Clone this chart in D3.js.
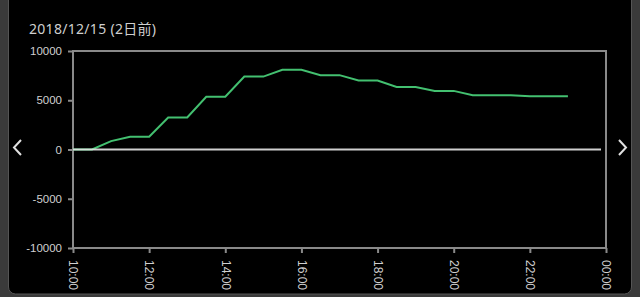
<!DOCTYPE html>
<html>
<head>
<meta charset="utf-8">
<script src="https://cdn.jsdelivr.net/npm/d3@7"></script>
<style>
html, body { margin: 0; padding: 0; background: #3a3a3a; overflow: hidden; }
svg { display: block; }
</style>
</head>
<body>
<script>
var w = 640, h = 297;
var titleText = "2018/12/15 (2日前)";
var times = ["10:00", "10:30", "11:00", "11:30", "12:00", "12:30", "13:00", "13:30", "14:00",
	"14:30", "15:00", "15:30", "16:00", "16:30", "17:00", "17:30", "18:00", "18:30", "19:00",
	"19:30", "20:00", "20:30", "21:00", "21:30", "22:00", "22:30", "23:00"];
var values = [0, 0, 850, 1300, 1300, 3250, 3250, 5350, 5350,
	7400, 7400, 8100, 8100, 7550, 7550, 7000, 7000, 6350, 6350,
	5950, 5950, 5500, 5500, 5500, 5400, 5400, 5400];
var yTicks = [-10000, -5000, 0, 5000, 10000];

var parse = d3.timeParse("%Y-%m-%d %H:%M");
function toDate(t) {
	return parse("2018-12-15 " + t);
}
var data = times.map(function(t, i) { return { t: toDate(t), v: values[i] }; });

var mLeft = 73, mRight = 606, mTop = 51, mBottom = 248;

var x = d3.scaleTime()
	.domain([parse("2018-12-15 10:00"), parse("2018-12-16 00:00")])
	.range([mLeft, mRight]);
var y = d3.scaleLinear()
	.domain([-10000, 10000])
	.range([mBottom, mTop]);

var svg = d3.select("body")
	.append("svg")
	.attr("width", w)
	.attr("height", h);

// panel
svg.append("rect")
	.attr("x", 8.5)
	.attr("y", -20)
	.attr("width", 623)
	.attr("height", 314)
	.attr("rx", 7)
	.attr("fill", "#000")
	.attr("stroke", "#555")
	.attr("stroke-width", 1);

svg.append("text")
	.attr("x", 29)
	.attr("y", 34)
	.attr("fill", "#cfcfcf")
	.attr("font-family", "'Noto Sans', 'Noto Sans CJK JP', sans-serif")
	.attr("font-size", 14)
	.attr("letter-spacing", 0.3)
	.text(titleText);

// frame
svg.append("rect")
	.attr("x", mLeft)
	.attr("y", mTop)
	.attr("width", mRight - mLeft)
	.attr("height", mBottom - mTop)
	.attr("fill", "none")
	.attr("stroke", "#8a8a8a")
	.attr("stroke-width", 2);

var yAxis = svg.append("g")
	.attr("transform", "translate(" + mLeft + ",0)")
	.call(d3.axisLeft(y).tickValues(yTicks).tickSize(5).tickPadding(6)
		.tickFormat(function(d) { return String(d); }));
yAxis.select(".domain").remove();
yAxis.selectAll("line").attr("stroke", "#8a8a8a").attr("stroke-width", 2);
yAxis.selectAll("text")
	.attr("fill", "#d0d0d0")
	.attr("font-family", "'Liberation Sans', Arial, sans-serif")
	.attr("font-size", 11.5);

var xAxis = svg.append("g")
	.attr("transform", "translate(0," + mBottom + ")")
	.call(d3.axisBottom(x).ticks(d3.timeHour.every(2)).tickSize(5).tickFormat(d3.timeFormat("%H:%M")));
xAxis.select(".domain").remove();
xAxis.selectAll("line").attr("stroke", "#8a8a8a").attr("stroke-width", 2);
xAxis.selectAll("text")
	.attr("fill", "#d0d0d0")
	.attr("font-family", "'Liberation Sans', Arial, sans-serif")
	.attr("font-size", 12)
	.attr("text-anchor", "start")
	.attr("transform", "rotate(90)")
	.attr("x", 12)
	.attr("y", 0)
	.attr("dy", "0.35em");

// series
var line = d3.line()
	.x(function(d) { return x(d.t); })
	.y(function(d) { return y(d.v); });
svg.append("path")
	.datum(data)
	.attr("d", line)
	.attr("fill", "none")
	.attr("stroke", "#43c070")
	.attr("stroke-width", 2);

// zero line
svg.append("line")
	.attr("x1", mLeft)
	.attr("x2", mRight - 5)
	.attr("y1", y(0))
	.attr("y2", y(0))
	.attr("stroke", "#e6e6e6")
	.attr("stroke-width", 2)
	.attr("opacity", 0.9);

// arrows
svg.append("path")
	.attr("d", "M21,140 L14,147.5 L21,155")
	.attr("fill", "none")
	.attr("stroke", "#e0e0e0")
	.attr("stroke-width", 2);
svg.append("path")
	.attr("d", "M619,140 L626,147.5 L619,155")
	.attr("fill", "none")
	.attr("stroke", "#e0e0e0")
	.attr("stroke-width", 2);
</script>
</body>
</html>
